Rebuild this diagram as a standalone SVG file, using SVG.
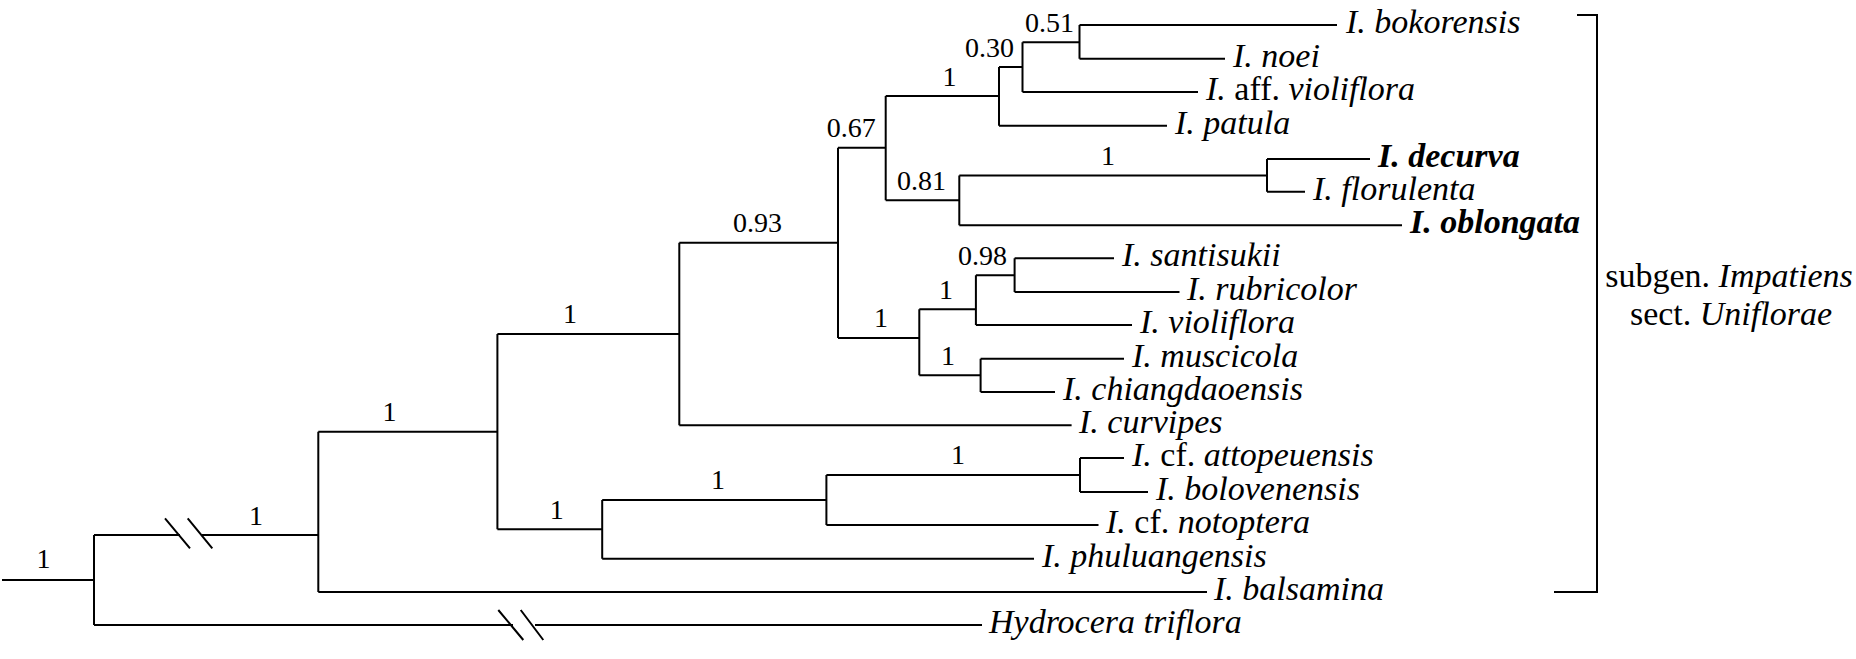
<svg xmlns="http://www.w3.org/2000/svg" width="1856" height="659" viewBox="0 0 1856 659">
<style>
.e{fill:none;stroke:#000;stroke-width:2;stroke-linecap:butt}
text{font-family:'Liberation Serif','Times New Roman','DejaVu Serif',serif;fill:#000}
.t{font-size:34px;font-style:italic}
.b{font-weight:bold}
.s{font-size:28px;text-anchor:middle}
.r{font-style:normal}
.g{font-size:34px;text-anchor:middle}
</style>
<rect width="1856" height="659" fill="#fff"/>
<g id="connectors" class="e">
<path d="M2,580H94M94,535V625"/>
<path d="M94,535H180M202,535H318.3"/>
<path d="M165,518.3L190,548.3M187.7,518.3L212.3,548.3"/>
<path d="M94,625H513M535,625H982"/>
<path d="M498.3,610L523.3,640M520.7,610L543.3,640"/>
<path d="M318.3,431.7V592M318.3,592H1207"/>
<path d="M318.3,431.7H497.4M497.4,334V529.3"/>
<path d="M497.4,334H679.3M679.3,242.7V425.3M679.3,425.3H1071.6"/>
<path d="M497.4,529.3H602.2M602.2,500V558.7M602.2,558.7H1034"/>
<path d="M602.2,500H826.4M826.4,475V525M826.4,525H1098.5"/>
<path d="M826.4,475H1080M1080,458V492M1080,458H1124M1080,492H1148"/>
<path d="M679.3,242.7H838M838,147.7V338"/>
<path d="M838,147.7H885.7M885.7,96V200.3"/>
<path d="M885.7,96H999M999,67V125.7M999,125.7H1167"/>
<path d="M999,67H1022.5M1022.5,42.3V92M1022.5,92H1198"/>
<path d="M1022.5,42.3H1079.5M1079.5,25V58.7M1079.5,25H1337M1079.5,58.7H1225"/>
<path d="M885.7,200.3H959.3M959.3,175.5V225.3M959.3,225.3H1402"/>
<path d="M959.3,175.5H1267M1267,159V191.7M1267,159H1370M1267,191.7H1305"/>
<path d="M838,338H919.3M919.3,309.3V375.3"/>
<path d="M919.3,309.3H975.9M975.9,275.2V325M975.9,325H1132"/>
<path d="M975.9,275.2H1014.6M1014.6,258.3V292M1014.6,258.3H1114M1014.6,292H1179.5"/>
<path d="M919.3,375.3H980.6M980.6,358.7V392M980.6,358.7H1124M980.6,392H1055"/>
<path d="M1577,15H1597V592H1554"/>
</g>
<g id="support">
<text class="s" x="43.5" y="568">1</text>
<text class="s" x="256" y="525">1</text>
<text class="s" x="389.5" y="421">1</text>
<text class="s" x="570" y="323">1</text>
<text class="s" x="556.7" y="518.5">1</text>
<text class="s" x="718" y="489">1</text>
<text class="s" x="958" y="464">1</text>
<text class="s" x="757.5" y="232">0.93</text>
<text class="s" x="881" y="327">1</text>
<text class="s" x="851.3" y="137">0.67</text>
<text class="s" x="946" y="298.7">1</text>
<text class="s" x="982.4" y="264.5">0.98</text>
<text class="s" x="948" y="365">1</text>
<text class="s" x="949.4" y="85.5">1</text>
<text class="s" x="989.5" y="56.5">0.30</text>
<text class="s" x="1049.4" y="31.5">0.51</text>
<text class="s" x="921.5" y="190">0.81</text>
<text class="s" x="1108" y="165">1</text>
</g>
<g id="bokorensis"><text class="t" x="1346" y="33">I. bokorensis</text></g>
<g id="noei"><text class="t" x="1233" y="66.7">I. noei</text></g>
<g id="aff-violiflora"><text class="t" x="1206" y="100">I. <tspan class="r">aff.</tspan> violiflora</text></g>
<g id="patula"><text class="t" x="1175" y="133.7">I. patula</text></g>
<g id="decurva"><text class="t b" x="1378" y="167">I. decurva</text></g>
<g id="florulenta"><text class="t" x="1313" y="199.7">I. florulenta</text></g>
<g id="oblongata"><text class="t b" x="1410" y="233.3">I. oblongata</text></g>
<g id="santisukii"><text class="t" x="1122" y="266.3">I. santisukii</text></g>
<g id="rubricolor"><text class="t" x="1187" y="300">I. rubricolor</text></g>
<g id="violiflora"><text class="t" x="1140" y="333">I. violiflora</text></g>
<g id="muscicola"><text class="t" x="1132" y="366.7">I. muscicola</text></g>
<g id="chiangdaoensis"><text class="t" x="1063" y="400">I. chiangdaoensis</text></g>
<g id="curvipes"><text class="t" x="1079" y="433.3">I. curvipes</text></g>
<g id="cf-attopeuensis"><text class="t" x="1132" y="466">I. <tspan class="r">cf.</tspan> attopeuensis</text></g>
<g id="bolovenensis"><text class="t" x="1156" y="500">I. bolovenensis</text></g>
<g id="cf-notoptera"><text class="t" x="1106" y="533">I. <tspan class="r">cf.</tspan> notoptera</text></g>
<g id="phuluangensis"><text class="t" x="1042" y="566.7">I. phuluangensis</text></g>
<g id="balsamina"><text class="t" x="1214" y="600">I. balsamina</text></g>
<g id="hydrocera"><text class="t" x="989" y="633">Hydrocera triflora</text></g>
<g id="group-label">
<text class="g" x="1729" y="287">subgen. <tspan font-style="italic">Impatiens</tspan></text>
<text class="g" x="1731" y="325">sect. <tspan font-style="italic">Uniflorae</tspan></text>
</g>
</svg>
